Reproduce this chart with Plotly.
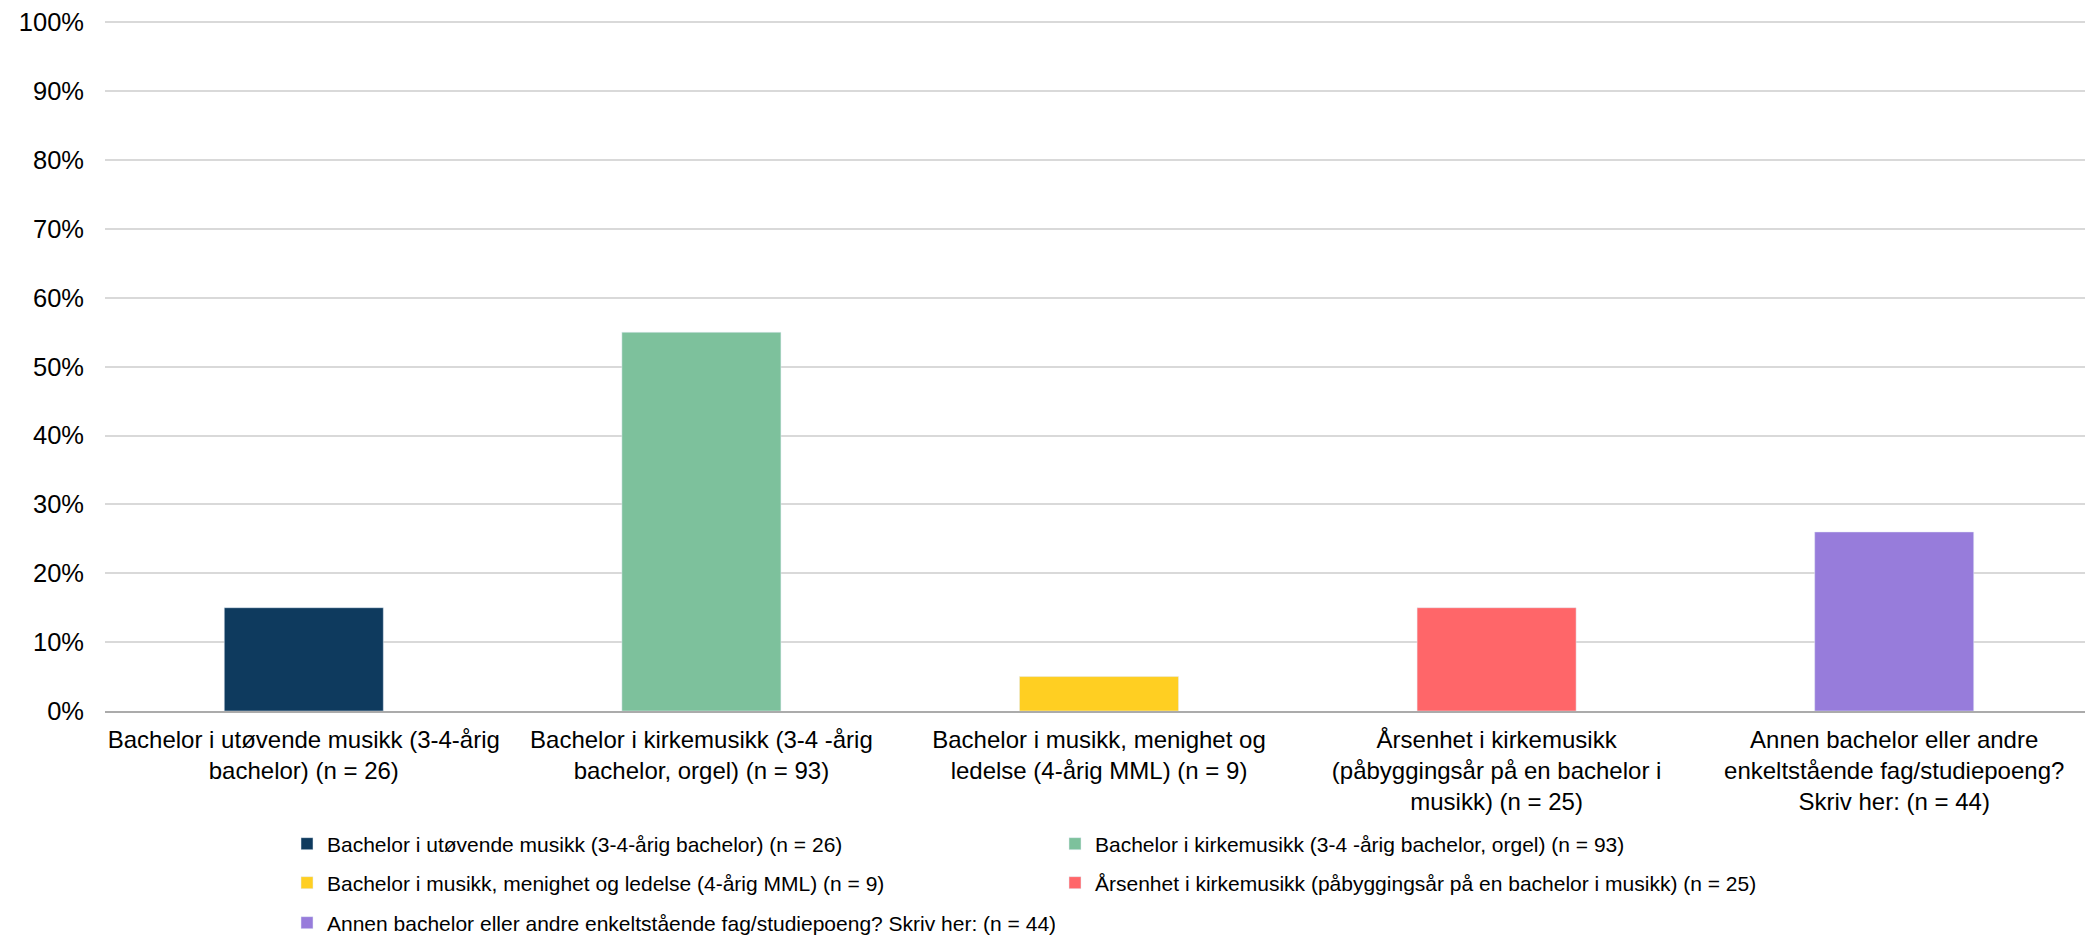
import plotly.graph_objects as go

categories = [
    "Bachelor i utøvende musikk (3-4-årig<br>bachelor) (n = 26)",
    "Bachelor i kirkemusikk (3-4 -årig<br>bachelor, orgel) (n = 93)",
    "Bachelor i musikk, menighet og<br>ledelse (4-årig MML) (n = 9)",
    "Årsenhet i kirkemusikk<br>(påbyggingsår på en bachelor i<br>musikk) (n = 25)",
    "Annen bachelor eller andre<br>enkeltstående fag/studiepoeng?<br>Skriv her: (n = 44)",
]
legend_names = [
    "Bachelor i utøvende musikk (3-4-årig bachelor) (n = 26)",
    "Bachelor i kirkemusikk (3-4 -årig bachelor, orgel) (n = 93)",
    "Bachelor i musikk, menighet og ledelse (4-årig MML) (n = 9)",
    "Årsenhet i kirkemusikk (påbyggingsår på en bachelor i musikk) (n = 25)",
    "Annen bachelor eller andre enkeltstående fag/studiepoeng? Skriv her: (n = 44)",
]
values = [0.15, 0.55, 0.05, 0.15, 0.26]
colors = ["#0E3A5E", "#7DC19C", "#FFCF22", "#FF6669", "#977CDB"]
legend_ids = ["legend", "legend", "legend2", "legend2", "legend3"]

FONT = "Liberation Sans, Arial, sans-serif"

fig = go.Figure()
for cat, name, val, col, lg in zip(categories, legend_names, values, colors, legend_ids):
    fig.add_trace(go.Bar(
        x=[cat], y=[val], name=name, marker_color=col, width=0.4,
        legend=lg, showlegend=True,
    ))

W, H = 2093, 940
ml, mr, mt, mb = 97, 8, 13, 237
ph = H - mt - mb

def ypaper(px):
    return (H - mb - px) / ph

leg_common = dict(
    orientation="h", xanchor="left", yanchor="middle",
    font=dict(family=FONT, size=21, color="#000000"),
    entrywidth=723, entrywidthmode="pixels",
    bgcolor="rgba(0,0,0,0)", traceorder="normal",
)
lx = (279 - ml) / (W - ml - mr)

fig.update_layout(
    width=W, height=H,
    margin=dict(l=ml, r=mr, t=mt, b=mb, autoexpand=False),
    paper_bgcolor="white", plot_bgcolor="white",
    barmode="overlay",
    font=dict(family=FONT, size=24, color="#000000"),
    legend=dict(x=lx, y=ypaper(836), **leg_common),
    legend2=dict(x=lx, y=ypaper(875), **leg_common),
    legend3=dict(x=lx, y=ypaper(915), **leg_common),
    xaxis=dict(
        automargin=False,
        showline=True, linecolor="#ABABAB", linewidth=2,
        showgrid=False, ticks="",
        ticklabelstandoff=6,
        tickfont=dict(family=FONT, size=24, color="#000000"),
        categoryorder="array", categoryarray=categories,
    ),
    yaxis=dict(
        automargin=False,
        range=[0, 1.002], tickvals=[i / 10 for i in range(11)], tickformat=".0%",
        showgrid=True, gridcolor="#D9D9D9", gridwidth=1.5,
        zeroline=False, showline=False, ticks="",
        ticklabelstandoff=20,
        tickfont=dict(family=FONT, size=25.5, color="#000000"),
    ),
)

fig.write_html("out.html")
